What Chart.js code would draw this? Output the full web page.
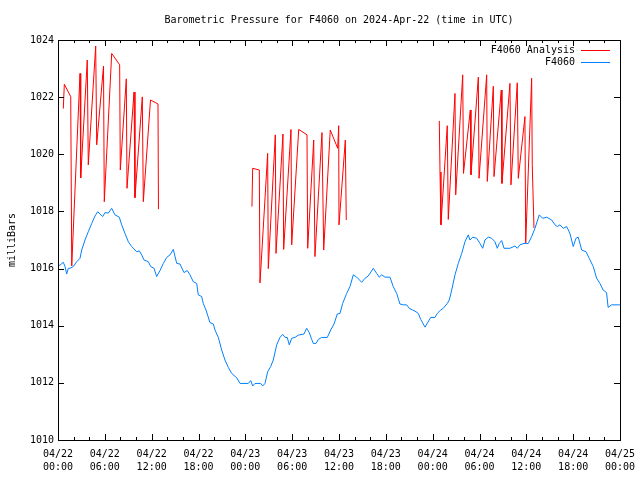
<!DOCTYPE html>
<html>
<head>
<meta charset="utf-8">
<script src="https://cdn.jsdelivr.net/npm/chart.js@4/dist/chart.umd.min.js"></script>
<style>html,body{margin:0;padding:0;background:#fff}canvas{display:block}</style>
</head>
<body>
<canvas id="c" width="640" height="480"></canvas>
<script>
// Hours since 2024-04-22 00:00 UTC
const xTickHours = [0, 6, 12, 18, 24, 30, 36, 42, 48, 54, 60, 66, 72];
const yTickValues = [1010, 1012, 1014, 1016, 1018, 1020, 1022, 1024];

const blueHours = [0, 0.26, 0.68, 0.90, 1.11, 1.32, 1.54, 1.96, 2.40, 2.82, 3.04, 3.46, 3.88, 4.32, 4.74, 5.09, 5.38, 5.73, 6.02, 6.44, 6.88, 7.30, 7.85, 8.16, 8.58, 9.01, 9.44, 10.08, 10.42, 10.72, 11.02, 11.57, 11.88, 12.30, 12.64, 13.07, 13.49, 13.93, 14.35, 14.77, 15.21, 15.63, 16.14, 16.56, 16.91, 17.33, 17.77, 17.97, 18.41, 18.61, 18.96, 19.47, 19.90, 20.11, 20.54, 20.97, 21.39, 21.82, 22.25, 22.89, 23.32, 24.38, 24.69, 24.94, 25.24, 25.97, 26.22, 26.52, 26.86, 27.25, 27.58, 28.02, 28.44, 28.79, 29.08, 29.37, 29.63, 29.94, 30.36, 30.78, 31.51, 31.86, 32.19, 32.50, 32.71, 33.05, 33.35, 33.78, 34.50, 34.94, 35.36, 35.78, 36.13, 36.47, 36.98, 37.41, 37.83, 38.27, 38.91, 39.33, 39.75, 40.39, 40.83, 41.16, 41.47, 41.89, 42.53, 42.95, 43.39, 43.81, 44.24, 44.67, 45.00, 45.44, 45.86, 46.16, 46.47, 47.02, 47.75, 48.30, 48.59, 49.03, 49.36, 49.87, 50.13, 50.44, 50.86, 51.28, 51.72, 52.14, 52.56, 52.78, 53.13, 53.64, 54.06, 54.41, 54.70, 55.13, 55.56, 55.98, 56.28, 56.53, 56.84, 57.14, 57.90, 58.54, 58.84, 59.18, 59.70, 60.25, 60.68, 61.11, 61.66, 62.09, 62.61, 63.25, 63.67, 63.96, 64.31, 64.73, 65.17, 65.59, 66.01, 66.36, 66.65, 67.09, 67.64, 68.06, 68.57, 69.01, 69.43, 69.84, 70.28, 70.48, 70.92, 71.99];
const blueValues = [1016.10, 1016.12, 1016.22, 1016.07, 1015.81, 1016.01, 1016.01, 1016.07, 1016.24, 1016.36, 1016.65, 1017.00, 1017.29, 1017.58, 1017.84, 1017.99, 1017.91, 1017.82, 1017.96, 1017.94, 1018.11, 1017.88, 1017.80, 1017.53, 1017.23, 1016.94, 1016.77, 1016.59, 1016.62, 1016.48, 1016.30, 1016.24, 1016.07, 1016.01, 1015.72, 1015.93, 1016.18, 1016.39, 1016.48, 1016.67, 1016.18, 1016.16, 1015.86, 1015.93, 1015.78, 1015.54, 1015.48, 1015.08, 1015.02, 1014.78, 1014.55, 1014.11, 1014.06, 1013.85, 1013.59, 1013.15, 1012.80, 1012.54, 1012.33, 1012.18, 1011.98, 1011.98, 1012.08, 1011.89, 1011.98, 1011.98, 1011.89, 1011.98, 1012.39, 1012.57, 1012.80, 1013.33, 1013.59, 1013.70, 1013.59, 1013.59, 1013.33, 1013.56, 1013.59, 1013.67, 1013.71, 1013.91, 1013.76, 1013.52, 1013.38, 1013.38, 1013.52, 1013.59, 1013.59, 1013.85, 1014.06, 1014.41, 1014.43, 1014.78, 1015.13, 1015.37, 1015.78, 1015.70, 1015.52, 1015.66, 1015.74, 1016.01, 1015.83, 1015.70, 1015.78, 1015.70, 1015.70, 1015.37, 1015.13, 1014.76, 1014.73, 1014.73, 1014.61, 1014.55, 1014.49, 1014.43, 1014.22, 1013.95, 1014.29, 1014.29, 1014.43, 1014.55, 1014.61, 1014.78, 1014.90, 1015.25, 1015.78, 1016.18, 1016.53, 1016.94, 1017.18, 1017.00, 1017.10, 1017.06, 1016.88, 1016.71, 1017.00, 1017.10, 1017.06, 1016.94, 1016.71, 1016.88, 1016.98, 1016.71, 1016.71, 1016.79, 1016.71, 1016.83, 1016.88, 1016.88, 1017.12, 1017.41, 1017.88, 1017.76, 1017.80, 1017.70, 1017.53, 1017.47, 1017.53, 1017.41, 1017.47, 1017.23, 1016.77, 1017.06, 1017.10, 1016.65, 1016.59, 1016.36, 1016.07, 1015.66, 1015.48, 1015.25, 1015.16, 1014.64, 1014.73, 1014.73];

const redSeg1Hours = [0.68, 0.81, 1.63, 1.76, 2.82, 2.91, 3.75, 3.88, 4.83, 4.96, 5.83, 5.93, 6.88, 7.90, 7.98, 8.75, 8.84, 9.74, 9.86, 10.80, 10.93, 11.85, 12.81, 12.87];
const redSeg1Values = [1021.60, 1022.45, 1022.02, 1016.09, 1022.83, 1019.17, 1023.30, 1019.63, 1023.79, 1020.33, 1023.09, 1018.34, 1023.53, 1023.13, 1019.45, 1022.64, 1018.81, 1022.18, 1018.48, 1022.01, 1018.34, 1021.90, 1021.76, 1018.08];
const redSeg2Hours = [24.85, 24.94, 25.79, 25.88, 26.86, 26.94, 27.84, 27.93, 28.82, 28.91, 29.85, 29.94, 30.84, 31.90, 31.99, 32.76, 32.92, 33.82, 34.04, 34.88, 35.83, 35.96, 36.00, 36.81, 36.93];
const redSeg2Values = [1018.17, 1019.51, 1019.45, 1015.50, 1020.03, 1016.00, 1020.68, 1016.53, 1020.71, 1016.67, 1020.87, 1016.83, 1020.87, 1020.68, 1016.71, 1020.50, 1016.42, 1020.76, 1016.65, 1020.85, 1020.21, 1021.00, 1017.53, 1020.50, 1017.70];
const redSeg3Hours = [48.85, 48.94, 49.06, 49.87, 50.00, 50.86, 50.95, 51.85, 51.95, 52.82, 52.91, 53.85, 53.94, 54.92, 55.00, 55.77, 55.86, 56.79, 56.88, 57.90, 58.03, 58.84, 58.97, 59.82, 59.92, 60.68, 60.76, 60.98];
const redSeg3Values = [1021.17, 1019.38, 1017.53, 1021.00, 1017.72, 1022.13, 1018.58, 1022.78, 1019.33, 1021.55, 1019.28, 1022.70, 1019.16, 1022.78, 1019.05, 1022.38, 1019.22, 1022.25, 1018.98, 1022.48, 1018.93, 1022.50, 1019.16, 1021.32, 1016.90, 1022.66, 1019.63, 1017.42];

const toPts = (hs, vs) => hs.map((h, i) => ({x: h, y: vs[i]}));
const redData = [
  ...toPts(redSeg1Hours, redSeg1Values), {x: 13.0, y: null},
  ...toPts(redSeg2Hours, redSeg2Values), {x: 37.0, y: null},
  ...toPts(redSeg3Hours, redSeg3Values)
];
const blueData = toPts(blueHours, blueValues);

const RED = '#ff0000', BLUE = '#0080ff';
const FONT = 'DejaVu Sans Mono';

const frame = {
  id: 'frame',
  afterDraw(chart) {
    const ctx = chart.ctx, a = chart.chartArea;
    const xs = chart.scales.x, ys = chart.scales.y;
    ctx.save();
    ctx.strokeStyle = '#000';
    ctx.lineWidth = 1;
    ctx.strokeRect(Math.round(a.left) + 0.5, Math.round(a.top) + 0.5, Math.round(a.right - a.left), Math.round(a.bottom - a.top));
    ctx.beginPath();
    for (let h = 0; h <= 72; h += 2) {
      const px = Math.round(xs.getPixelForValue(h)) + 0.5;
      const len = (h % 6 === 0) ? 6 : 3;
      ctx.moveTo(px, a.bottom); ctx.lineTo(px, a.bottom - len);
      ctx.moveTo(px, a.top); ctx.lineTo(px, a.top + len);
    }
    yTickValues.forEach(v => {
      const py = Math.round(ys.getPixelForValue(v)) + 0.5;
      ctx.moveTo(a.left, py); ctx.lineTo(a.left + 6, py);
      ctx.moveTo(a.right, py); ctx.lineTo(a.right - 6, py);
    });
    ctx.stroke();
    // legend
    ctx.font = '10px "' + FONT + '"';
    ctx.fillStyle = '#000';
    ctx.textAlign = 'right';
    ctx.textBaseline = 'middle';
    const items = [[chart.data.datasets[0].label, RED, 50], [chart.data.datasets[1].label, BLUE, 62]];
    items.forEach(([t, c, y]) => {
      ctx.fillText(t, 575, y);
      ctx.strokeStyle = c;
      ctx.beginPath();
      ctx.moveTo(581, y + 0.5); ctx.lineTo(610, y + 0.5);
      ctx.stroke();
    });
    ctx.restore();
  }
};

new Chart(document.getElementById('c'), {
  type: 'line',
  data: {
    datasets: [
      {label: 'F4060 Analysis', data: redData, borderColor: RED, borderWidth: 1, pointRadius: 0, spanGaps: false, tension: 0, order: 2},
      {label: 'F4060', data: blueData, borderColor: BLUE, borderWidth: 1, pointRadius: 0, tension: 0, order: 1}
    ]
  },
  options: {
    responsive: false,
    animation: false,
    devicePixelRatio: 1,
    layout: {padding: {left: 0, right: 20, top: 0, bottom: 0}},
    plugins: {
      legend: {display: false},
      tooltip: {enabled: false},
      title: {
        display: true,
        text: 'Barometric Pressure for F4060 on 2024-Apr-22 (time in UTC)',
        fullSize: false,
        color: '#000',
        font: {family: FONT, size: 10, weight: 'normal', lineHeight: 1.2},
        padding: {top: 14, bottom: 14}
      }
    },
    scales: {
      x: {
        type: 'linear', min: 0, max: 72,
        afterFit(s) { s.height = 40; s.paddingLeft = 0; s.paddingRight = 0; },
        afterBuildTicks(s) { s.ticks = xTickHours.map(v => ({value: v})); },
        grid: {display: false, drawTicks: false},
        border: {display: false},
        ticks: {
          color: '#000', padding: 8, maxRotation: 0, autoSkip: false,
          font: {family: FONT, size: 10, lineHeight: 1.3},
          callback: (v) => ['04/' + (22 + Math.floor(v / 24)), String(v % 24).padStart(2, '0') + ':00']
        }
      },
      y: {
        min: 1010, max: 1024,
        afterFit(s) { s.width = 58; },
        afterBuildTicks(s) { s.ticks = yTickValues.map(v => ({value: v})); },
        grid: {display: false, drawTicks: false},
        border: {display: false},
        ticks: {color: '#000', padding: 4, font: {family: FONT, size: 10}, callback: (v) => String(v)},
        title: {display: true, text: 'milliBars', color: '#000', font: {family: FONT, size: 10}, padding: {top: 6, bottom: 0}}
      }
    }
  },
  plugins: [frame]
});
</script>
</body>
</html>
